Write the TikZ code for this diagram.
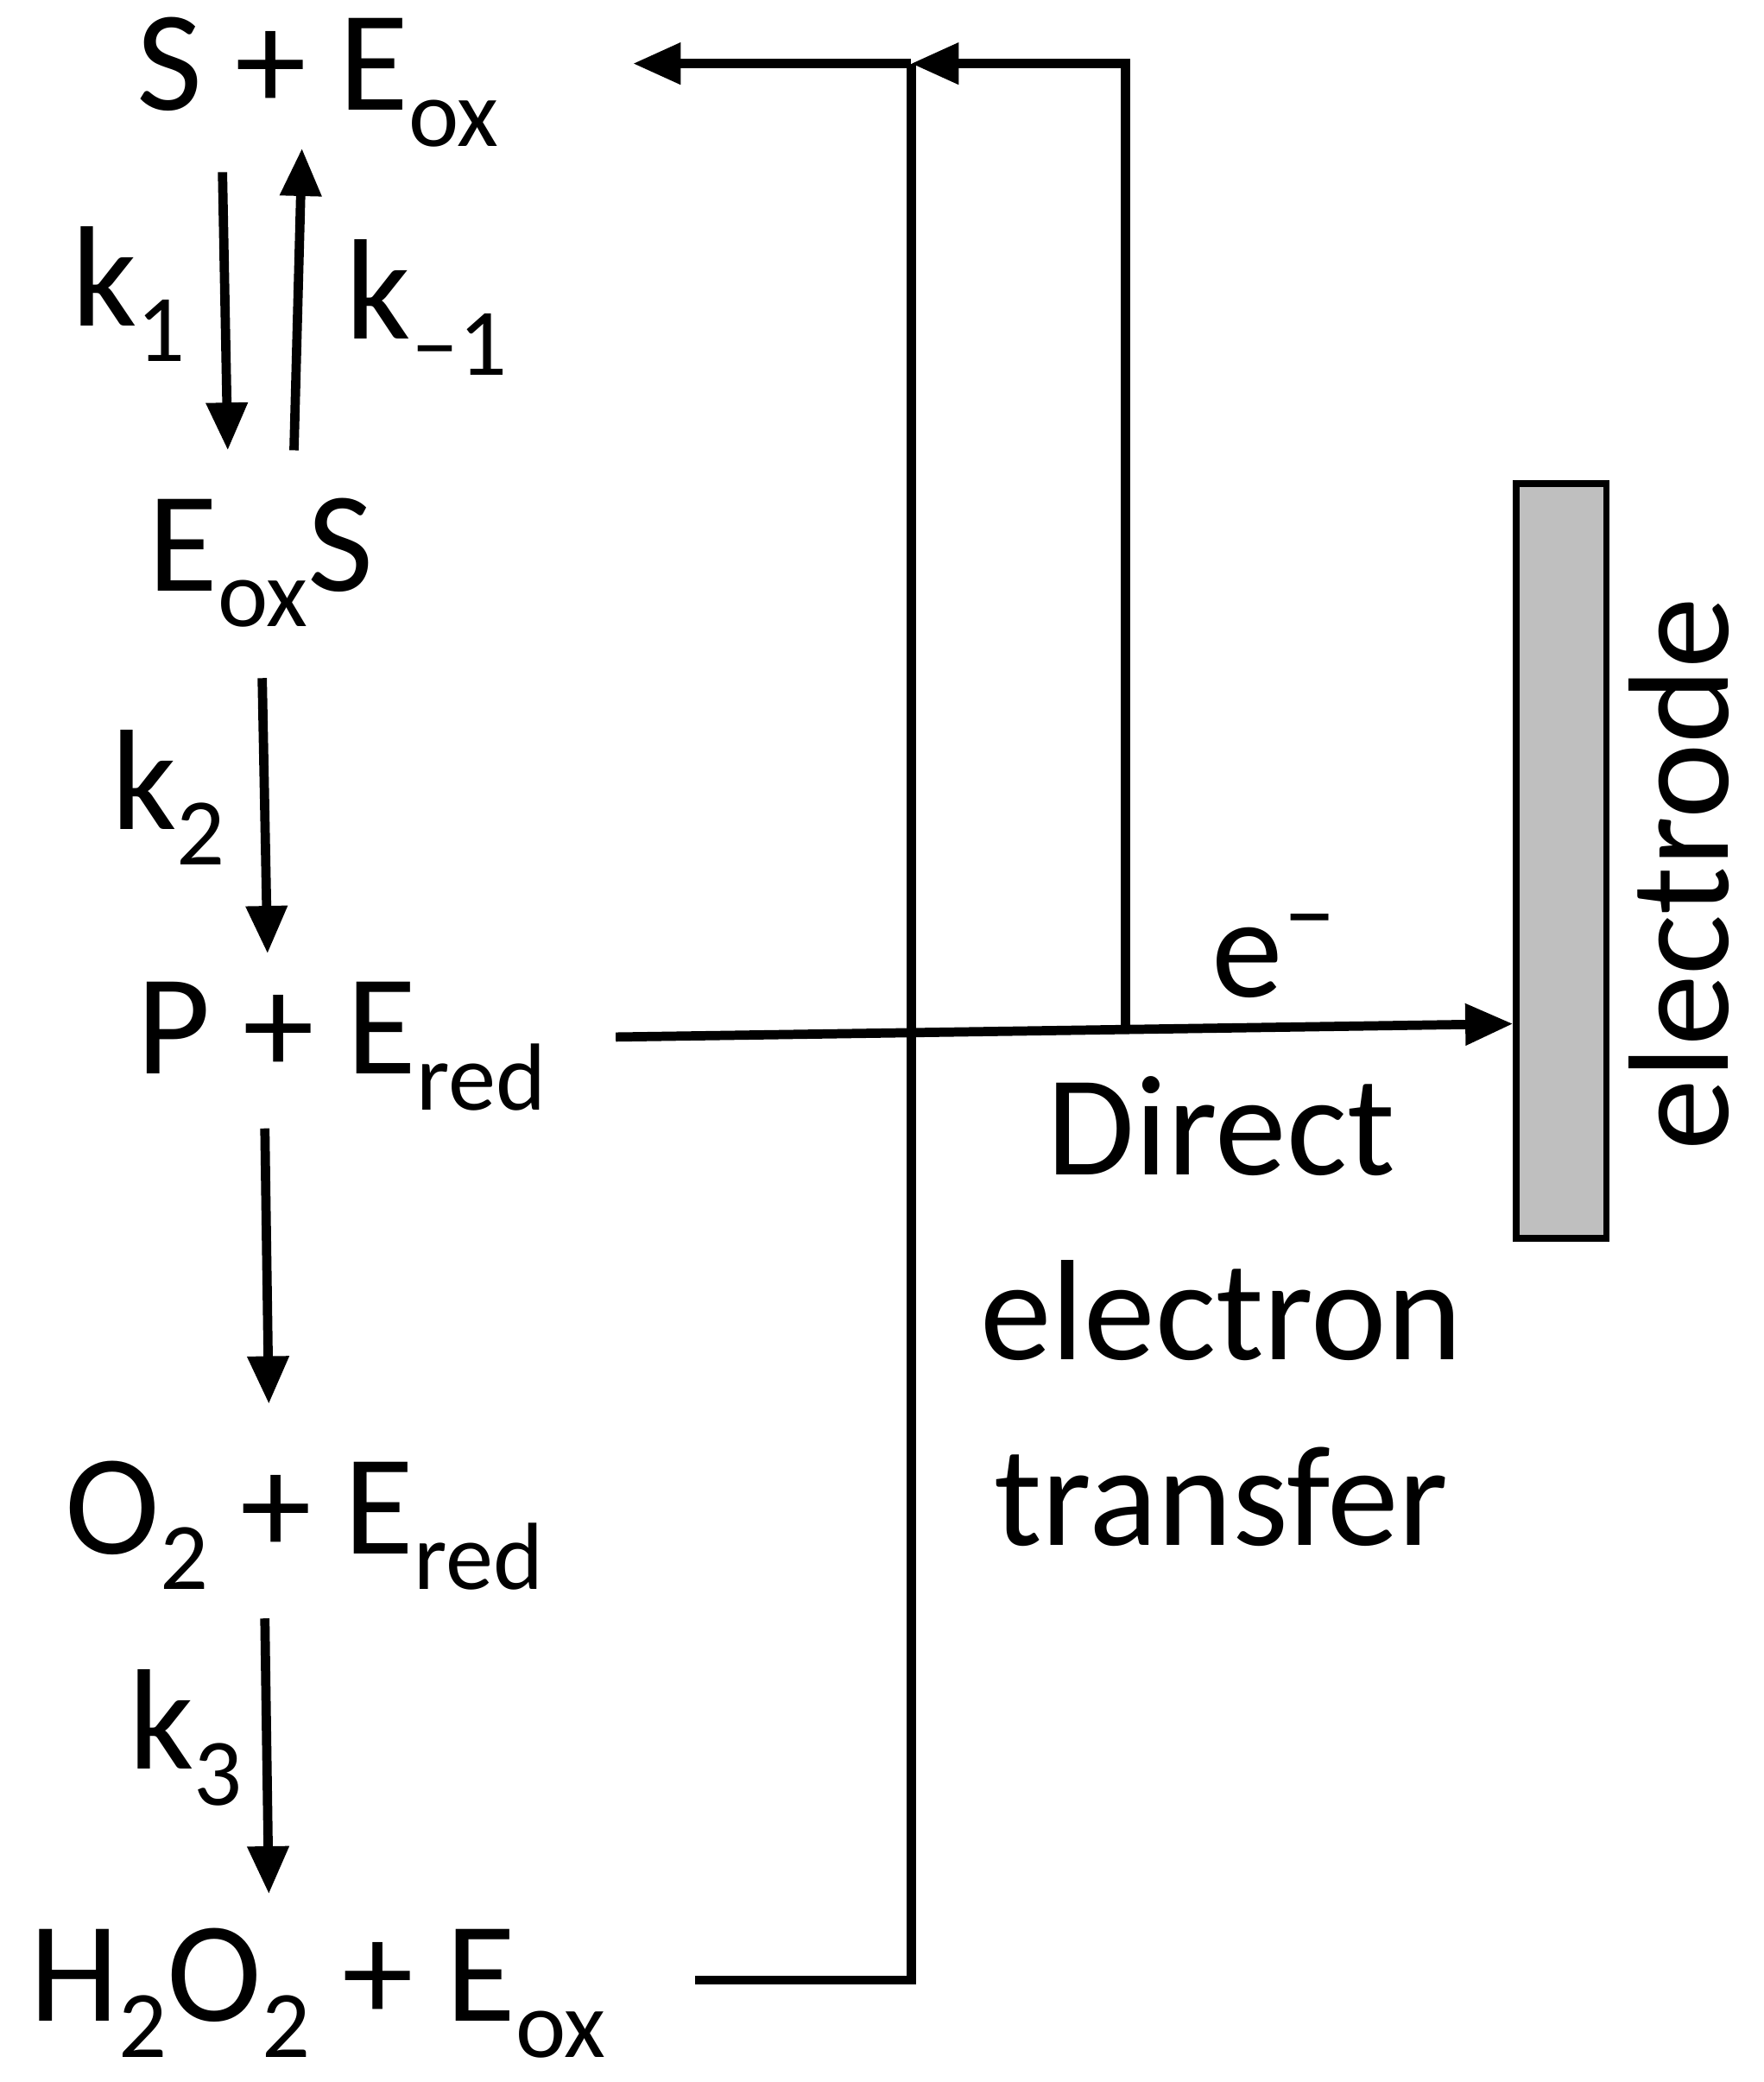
\documentclass[tikz,border=0pt]{standalone}
\usepackage{fontspec}
\setmainfont{Carlito}
\usetikzlibrary{arrows.meta}
\newcommand{\sbx}[1]{\raisebox{-0.25em}{\fontsize{36}{40}\selectfont #1}}
\begin{document}
\begin{tikzpicture}[x=0.5pt,y=-0.5pt,
  ln/.style={line width=3.5pt},
  ar/.style={ln,-{Triangle[length=18pt,width=15pt]}},
  tx/.style={font=\fontsize{54}{64}\selectfont,inner sep=0pt}]
\useasboundingbox (0,0) rectangle (1332,1572);
\node[tx] (a) at (240,62) {S + E\sbx{ox}};
\node[tx] (b) at (197,425) {E\sbx{ox}S};
\node[tx] (c) at (258,790) {P + E\sbx{red}};
\node[tx] (d) at (230,1152) {O\sbx{2} + E\sbx{red}};
\node[tx] (e) at (240,1505) {H\sbx{2}O\sbx{2} + E\sbx{ox}};
\node[tx] (k1) at (97,222) {k\sbx{1}};
\node[tx] (km1) at (322,232) {k\sbx{–1}};
\node[tx] (k2) at (127,602) {k\sbx{2}};
\node[tx] (k3) at (140,1312) {k\sbx{3}};
\node[tx] (em) at (962,722) {e\raisebox{0.35em}{\fontsize{40}{44}\selectfont –}};
\node[tx,align=center] (det) at (922,990) {Direct\\[6pt]electron\\[6pt]transfer};
\node[draw,line width=2.5pt,fill=gray!50,minimum width=34pt,minimum height=285pt,inner sep=0pt] (el) at (1179,650) {};
\node[tx,rotate=90] (elt) at (1268,660) {electrode};
\draw[ar] (168,130) -- (172,340);
\draw[ar] (222,340) -- (228,112);
\draw[ar] (198,512) -- (202,720);
\draw[ar] (200,852) -- (203,1060);
\draw[ar] (200,1222) -- (203,1430);
\coordinate (h1) at (525,1495);
\coordinate (h2) at (688,1495);
\coordinate (h3) at (688,48);
\coordinate (h4) at (478,48);
\draw[ln] (h1) -- (h2) -- (h3);
\draw[ar] (h3) -- (h4);
\coordinate (p1) at (850,775);
\coordinate (p2) at (850,48);
\draw[ar] (p1) -- (p2) -- (h3);
\draw[ar] (465,783) -- (el.west |- 0,773);
\end{tikzpicture}
\end{document}
